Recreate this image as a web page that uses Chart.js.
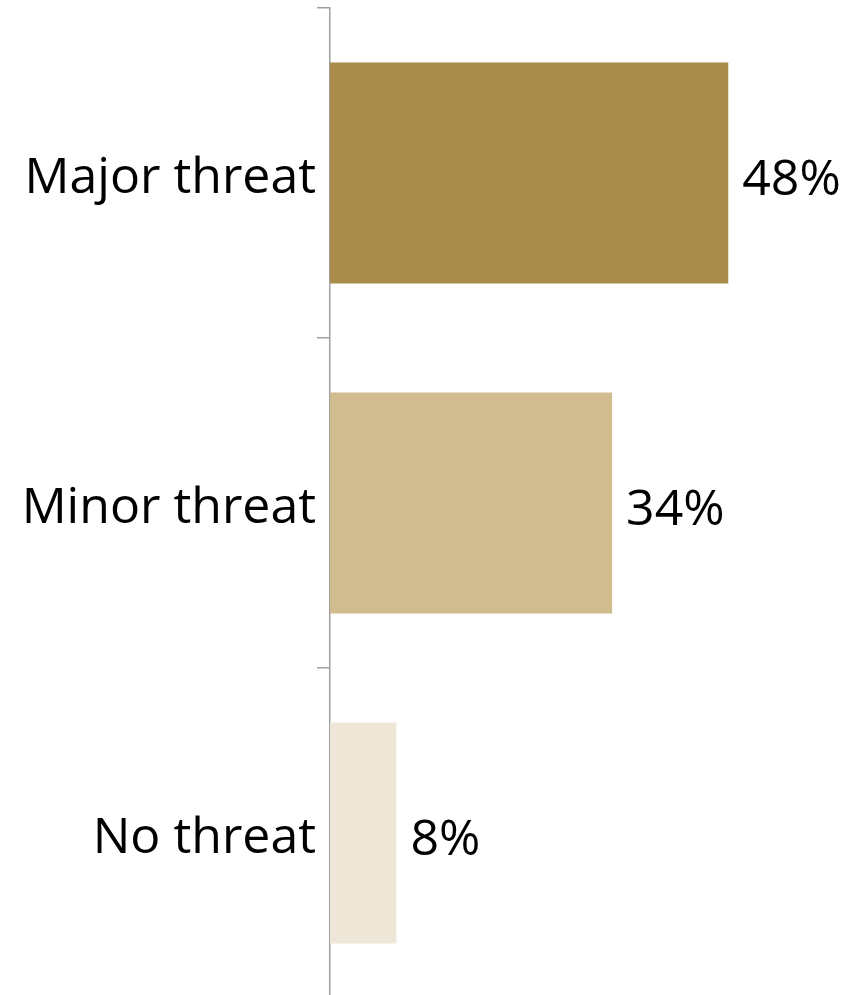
<!DOCTYPE html>
<html>
<head>
<meta charset="utf-8">
<style>
html,body{margin:0;padding:0;background:#fff;overflow:hidden;}
#wrap{width:861px;height:998px;}
</style>
<script src="https://cdn.jsdelivr.net/npm/chart.js@4/dist/chart.umd.min.js"></script>
</head>
<body>
<div id="wrap"><canvas id="c" width="861" height="998"></canvas></div>
<script>
const categories = ["Major threat", "Minor threat", "No threat"];
const values = [48, 34, 8];
const valueLabels = ["48%", "34%", "8%"];
const barColors = ["#A98B4A", "#D0BC8F", "#EEE6D6"];

const FONT = "'Open Sans', 'Noto Sans', sans-serif";

const valueLabelPlugin = {
  id: 'valueLabels',
  afterDatasetsDraw(chart) {
    const ctx = chart.ctx;
    const meta = chart.getDatasetMeta(0);
    ctx.save();
    ctx.font = "50px " + FONT;
    ctx.fillStyle = "#000";
    ctx.textAlign = "left";
    ctx.textBaseline = "middle";
    meta.data.forEach((bar, i) => {
      ctx.fillText(valueLabels[i], bar.x + 14, bar.y + 8);
    });
    ctx.restore();
  }
};

new Chart(document.getElementById('c'), {
  type: 'bar',
  data: {
    labels: categories,
    datasets: [{
      data: values,
      backgroundColor: barColors,
      borderWidth: 0,
      categoryPercentage: 0.67,
      barPercentage: 1.0
    }]
  },
  options: {
    indexAxis: 'y',
    responsive: false,
    animation: false,
    layout: { padding: { top: 8, right: 0, bottom: 0, left: 0 } },
    plugins: { legend: { display: false }, tooltip: { enabled: false } },
    scales: {
      x: { display: false, min: 0, max: 64 },
      y: {
        afterFit(scale) {
          scale.width = 330;
          scale.paddingTop = 0;
          scale.paddingBottom = 0;
        },
        grid: {
          offset: true,
          drawOnChartArea: false,
          drawTicks: true,
          tickLength: 13,
          color: '#A0A0A0',
          lineWidth: 1.5
        },
        border: { display: true, color: '#A0A0A0', width: 1.5 },
        ticks: {
          color: '#000',
          padding: 1,
          labelOffset: 6,
          font: { family: FONT, size: 50 }
        }
      }
    }
  },
  plugins: [valueLabelPlugin]
});
</script>
</body>
</html>
